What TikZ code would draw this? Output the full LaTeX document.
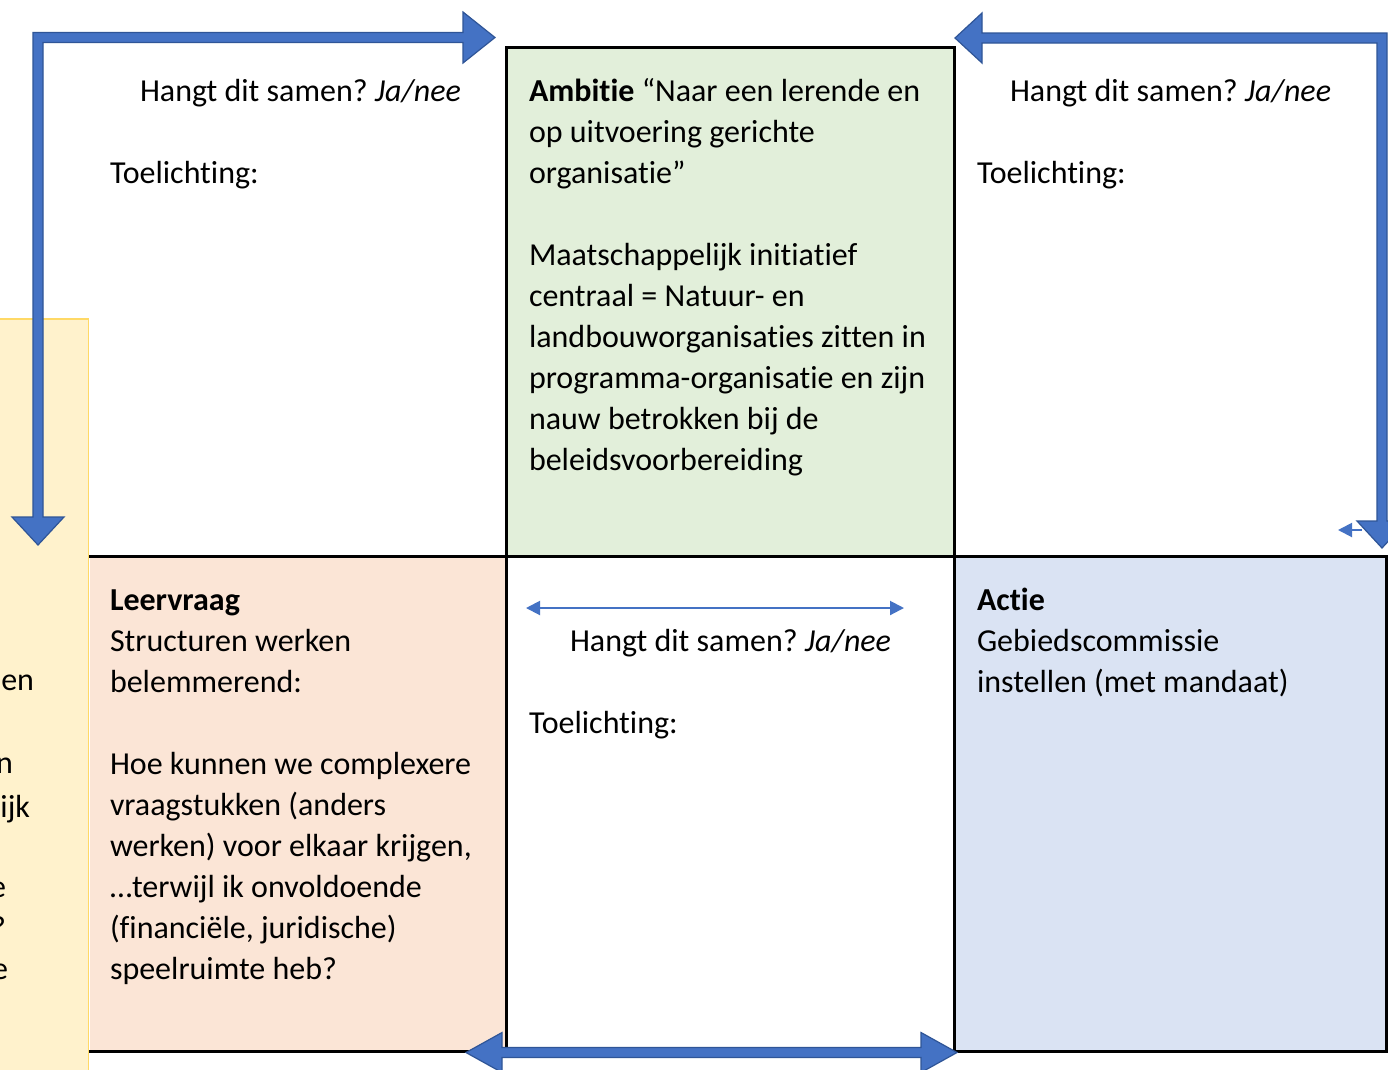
\documentclass[tikz,border=0pt]{standalone}
\usepackage{fontspec}
\setmainfont{Carlito}[RawFeature={-liga;-clig;-calt;-dlig}]
\frenchspacing
\usetikzlibrary{arrows.meta}
\definecolor{greenfill}{HTML}{E2EFDA}
\definecolor{pinkfill}{HTML}{FBE5D6}
\definecolor{bluefill}{HTML}{DAE3F3}
\definecolor{yellowfill}{HTML}{FFF2CC}
\definecolor{yellowline}{HTML}{FFD966}
\definecolor{arrowblue}{HTML}{4472C4}
\definecolor{arrowdark}{HTML}{2F5597}
\newcommand\bodyfs{\fontsize{32}{41}\selectfont\frenchspacing}
\begin{document}
\begin{tikzpicture}[x=1pt,y=-1pt,
  cell/.style={draw=none, inner sep=0pt, outer sep=0pt, anchor=north west},
  gridline/.style={draw=black, line width=3pt, line join=miter, line cap=rect},
  txt/.style={anchor=north west, inner sep=0pt, outer sep=0pt, align=left, font=\bodyfs},
  frag/.style={anchor=base east, inner sep=0pt, outer sep=0pt, font=\bodyfs},
  blockarrow/.style={fill=arrowblue, draw=arrowdark, line width=1.2pt, line join=miter},
  thinarrow/.style={draw=arrowblue, line width=2pt, {Triangle[length=14pt,width=14pt]}-{Triangle[length=14pt,width=14pt]}}
]
\useasboundingbox (0,0) rectangle (1388,1069);
\clip (0,0) rectangle (1388,1069);
\fill[white] (0,0) rectangle (1388,1069);

% cells
\node[cell, minimum width=416pt, minimum height=509pt] (tl) at (90,47) {};
\node[cell, fill=greenfill, minimum width=448pt, minimum height=509pt] (amb) at (506,47) {};
\node[cell, minimum width=432pt, minimum height=509pt] (tr) at (954,47) {};
\node[cell, fill=pinkfill, minimum width=416pt, minimum height=495pt] (leer) at (90,556) {};
\node[cell, minimum width=448pt, minimum height=495pt] (mid) at (506,556) {};
\node[cell, fill=bluefill, minimum width=432pt, minimum height=495pt] (actie) at (954,556) {};

% grid lines
\draw[gridline] (amb.south west) -- (amb.north west) -- (amb.north east) -- (mid.south east);
\draw[gridline] (amb.south west) -- (mid.south west);
\draw[gridline] (leer.north west) -- (actie.north east) -- (actie.south east) -- (leer.south west);

% yellow side box
\node[fill=yellowfill, draw=yellowline, line width=1.5pt, anchor=north east,
      minimum width=120pt, minimum height=800pt, inner sep=0pt] (yel) at (89,318) {};
\node[frag] (y1) at (34,690) {en};
\node[frag] (y2) at (13,773) {n};
\node[frag] (y3) at (30,817) {ijk};
\node[frag] (y4) at (6,897) {e};
\node[frag] (y5) at (6,938) {?};
\node[frag] (y6) at (8,979) {e};

% texts
\node[txt] (q1) at (140,72.3) {\strut Hangt dit samen? \textit{Ja/nee}};
\node[txt] (e1) at (110,154.3) {\strut Toelichting:};
\node[txt] (q2) at (1010,72.3) {\strut Hangt dit samen? \textit{Ja/nee}};
\node[txt] (e2) at (977,154.3) {\strut Toelichting:};
\node[txt] (ambtext) at (529,72.3) {\strut\textbf{Ambitie} “Naar een lerende en\\
op uitvoering gerichte\\
organisatie”\\[41pt]
Maatschappelijk initiatief\\
centraal = Natuur- en\\
landbouworganisaties zitten in\\
programma-organisatie en zijn\\
nauw betrokken bij de\\
beleidsvoorbereiding};
\node[txt] (leertext) at (110,581.3) {\strut\textbf{Leervraag}\\
Structuren werken\\
belemmerend:\\[41pt]
Hoe kunnen we complexere\\
vraagstukken (anders\\
werken) voor elkaar krijgen,\\
…terwijl ik onvoldoende\\
(financiële, juridische)\\
speelruimte heb?};
\node[txt] (q3) at (570,622.3) {\strut Hangt dit samen? \textit{Ja/nee}};
\node[txt] (e3) at (529,704.3) {\strut Toelichting:};
\node[txt] (actietext) at (977,581.3) {\strut\textbf{Actie}\\
Gebiedscommissie\\
instellen (met mandaat)};

% thin arrows
\coordinate (ma) at (526,608);
\coordinate (mb) at (904,608);
\draw[thinarrow] (ma) -- (mb);
\coordinate (sa) at (1362,530);
\coordinate (sb) at (1338,530);
\draw[draw=arrowblue, line width=2pt, -{Triangle[length=14pt,width=14pt]}] (sa) -- (sb);

% block arrows
\draw[blockarrow] (43,517) -- (43,42.5) -- (463,42.5) -- (463,63) -- (495,37.5) -- (463,12) -- (463,32.5)
  -- (33,32.5) -- (33,517) -- (12,517) -- (38,545) -- (64,517) -- cycle;
\draw[blockarrow] (955,38) -- (982,13) -- (982,33) -- (1387,33) -- (1387,521) -- (1407,521) -- (1382,548)
  -- (1357,521) -- (1377,521) -- (1377,43) -- (982,43) -- (982,63) -- cycle;
\draw[blockarrow] (466,1052.5) -- (502,1032.5) -- (502,1047.5) -- (921,1047.5) -- (921,1032.5) -- (957,1052.5)
  -- (921,1072.5) -- (921,1057.5) -- (502,1057.5) -- (502,1072.5) -- cycle;
\end{tikzpicture}
\end{document}
